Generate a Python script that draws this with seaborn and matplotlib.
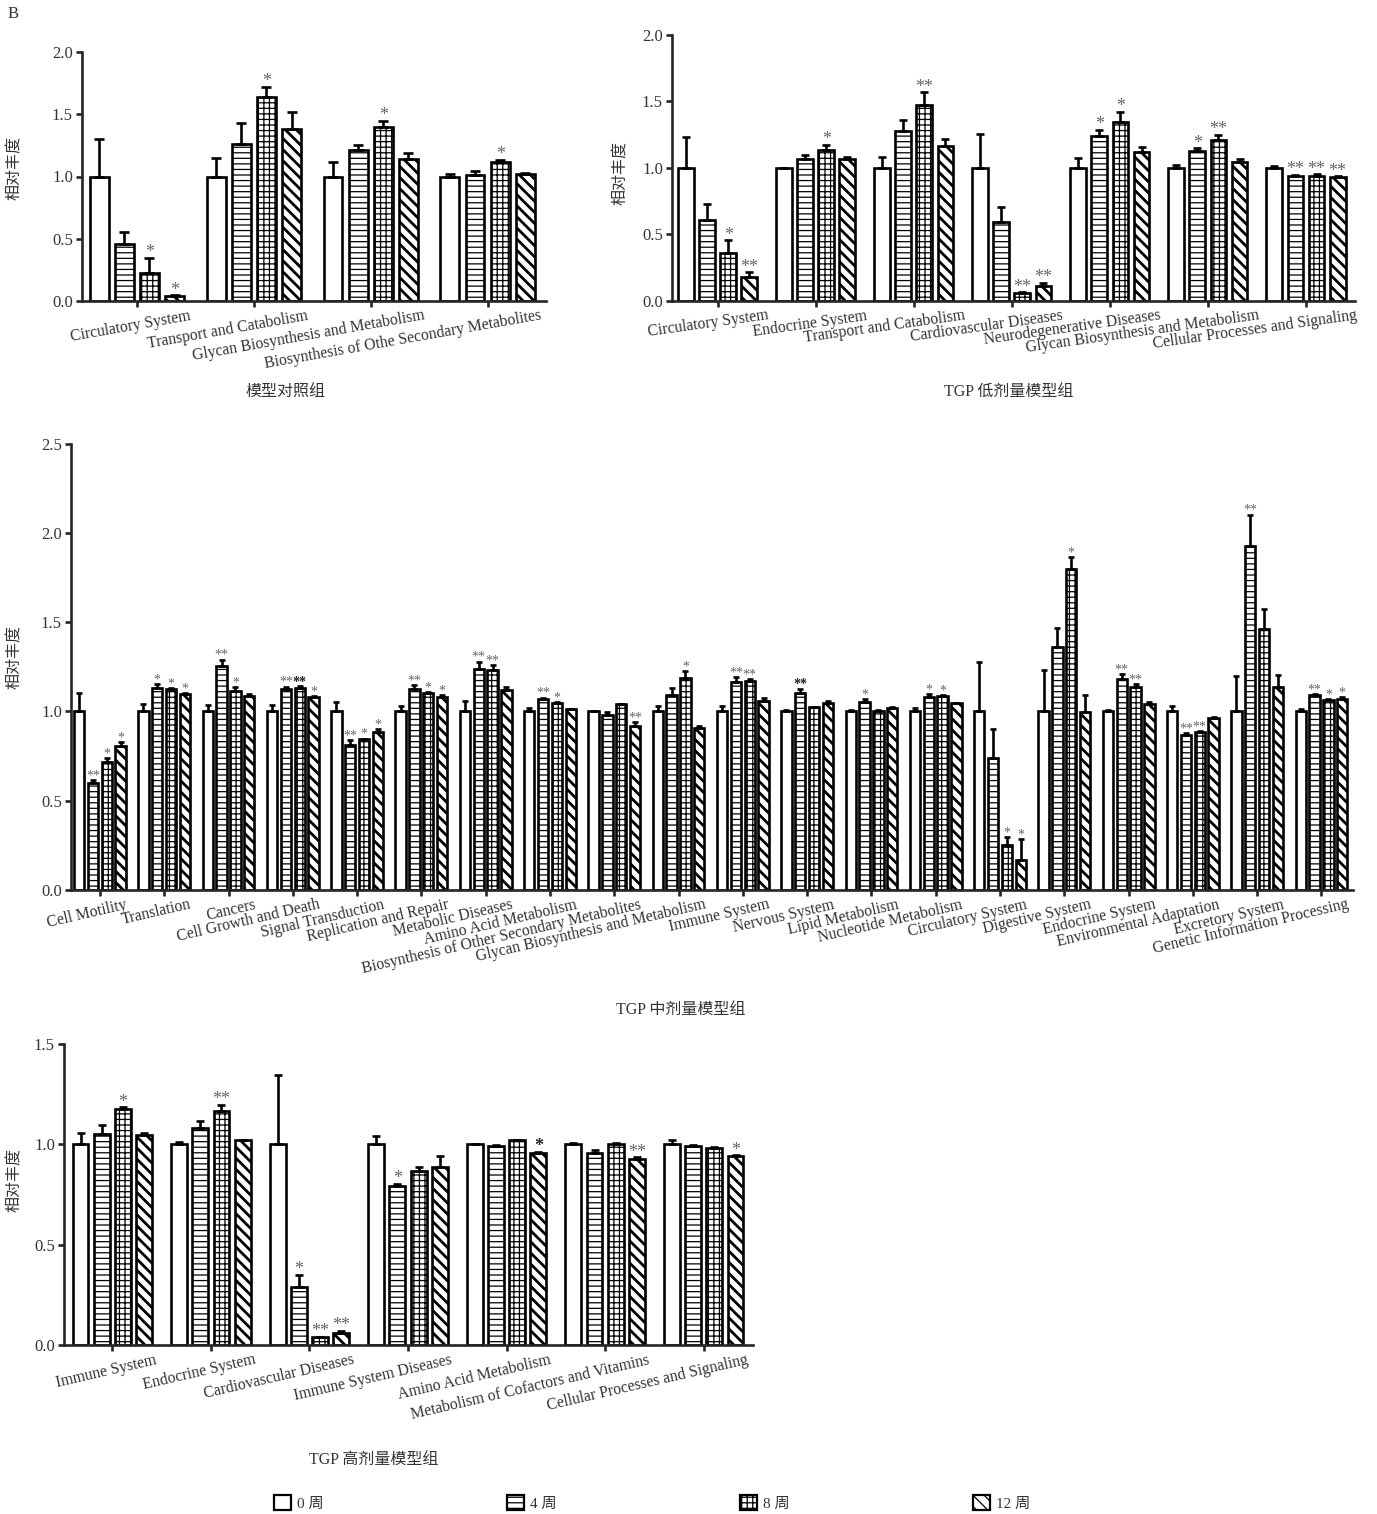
import pandas as pd
import matplotlib
matplotlib.use("Agg")
import matplotlib.pyplot as plt
import matplotlib.patches as mpatches
import seaborn as sns

# 1. Data
# --------------------------------
weeks = ["0 周", "4 周", "8 周", "12 周"]
hatches = ["", "---", "+++", "\\\\\\"]

# 模型对照组
ctrl_cats = ["Circulatory System", "Transport and Catabolism",
             "Glycan Biosynthesis and Metabolism",
             "Biosynthesis of Othe Secondary Metabolites"]
ctrl_mean = [[1.0, 1.0, 1.0, 1.0],
             [0.46, 1.26, 1.21, 1.01],
             [0.22, 1.64, 1.40, 1.12],
             [0.035, 1.385, 1.14, 1.02]]
ctrl_err = [[0.30, 0.147, 0.12, 0.02],
            [0.095, 0.17, 0.04, 0.035],
            [0.125, 0.08, 0.05, 0.012],
            [0.008, 0.135, 0.048, 0.005]]
ctrl_sig = [["", "", "", ""],
            ["", "", "", ""],
            ["*", "*", "*", "*"],
            ["*", "", "", ""]]

# TGP 低剂量模型组
low_cats = ["Circulatory System", "Endocrine System", "Transport and Catabolism",
            "Cardiovascular Diseases", "Neurodegenerative Diseases",
            "Glycan Biosynthesis and Metabolism", "Cellular Processes and Signaling"]
low_mean = [[1.0, 1.0, 1.0, 1.0, 1.0, 1.0, 1.0],
            [0.606, 1.068, 1.281, 0.593, 1.241, 1.126, 0.94],
            [0.357, 1.136, 1.472, 0.058, 1.347, 1.211, 0.94],
            [0.176, 1.063, 1.163, 0.11, 1.118, 1.043, 0.932]]
low_err = [[0.23, 0.0, 0.08, 0.256, 0.073, 0.023, 0.013],
           [0.123, 0.03, 0.081, 0.111, 0.045, 0.02, 0.005],
           [0.098, 0.035, 0.096, 0.005, 0.073, 0.04, 0.01],
           [0.038, 0.02, 0.051, 0.023, 0.04, 0.027, 0.005]]
low_sig = [["", "", "", "", "", "", ""],
           ["", "", "", "", "*", "*", "**"],
           ["*", "*", "**", "**", "*", "**", "**"],
           ["**", "", "", "**", "", "", "**"]]

# TGP 中剂量模型组
mid_cats = ["Cell Motility", "Translation", "Cancers", "Cell Growth and Death",
            "Signal Transduction", "Replication and Repair", "Metabolic Diseases",
            "Amino Acid Metabolism", "Biosynthesis of Other Secondary Metabolites",
            "Glycan Biosynthesis and Metabolism", "Immune System", "Nervous System",
            "Lipid Metabolism", "Nucleotide Metabolism", "Circulatory System",
            "Digestive System", "Endocrine System", "Environmental Adaptation",
            "Excretory System", "Genetic Information Processing"]
mid_mean = [[1.0] * 20,
            [0.598, 1.129, 1.257, 1.128, 0.812, 1.126, 1.24, 1.07, 0.981, 1.091,
             1.164, 1.106, 1.052, 1.081, 0.737, 1.36, 1.182, 0.867, 1.93, 1.091],
            [0.716, 1.124, 1.116, 1.133, 0.843, 1.101, 1.234, 1.05, 1.041, 1.188,
             1.168, 1.023, 1.002, 1.087, 0.25, 1.801, 1.137, 0.882, 1.46, 1.062],
            [0.806, 1.096, 1.088, 1.083, 0.886, 1.083, 1.12, 1.014, 0.921, 0.909,
             1.058, 1.046, 1.019, 1.046, 0.168, 0.996, 1.044, 0.963, 1.139, 1.07]]
mid_err = [[0.103, 0.04, 0.036, 0.036, 0.053, 0.03, 0.056, 0.019, 0.0, 0.029,
            0.029, 0.01, 0.01, 0.019, 0.28, 0.232, 0.006, 0.031, 0.197, 0.015],
           [0.017, 0.025, 0.033, 0.011, 0.029, 0.022, 0.04, 0.007, 0.017, 0.041,
            0.029, 0.022, 0.016, 0.016, 0.163, 0.108, 0.029, 0.013, 0.174, 0.004],
           [0.021, 0.005, 0.021, 0.007, 0.004, 0.006, 0.027, 0.004, 0.0, 0.038,
            0.014, 0.0, 0.006, 0.004, 0.046, 0.064, 0.018, 0.008, 0.113, 0.006],
           [0.022, 0.007, 0.008, 0.003, 0.014, 0.007, 0.017, 0.0, 0.017, 0.012,
            0.019, 0.014, 0.006, 0.004, 0.114, 0.095, 0.01, 0.008, 0.066, 0.009]]
mid_sig = [[""] * 20,
           ["**", "*", "**", "**", "**", "**", "**", "**", "", "",
            "**", "**", "*", "*", "", "", "**", "**", "**", "**"],
           ["*", "*", "*", "**", "*", "*", "**", "*", "", "*",
            "**", "", "", "*", "*", "*", "**", "**", "", "*"],
           ["*", "*", "", "*", "*", "*", "", "", "**", "",
            "", "", "", "", "*", "", "", "", "", "*"]]
mid_bold = [(3, 2), (11, 1)]

# TGP 高剂量模型组
high_cats = ["Immune System", "Endocrine System", "Cardiovascular Diseases",
             "Immune System Diseases", "Amino Acid Metabolism",
             "Metabolism of Cofactors and Vitamins", "Cellular Processes and Signaling"]
high_mean = [[1.0, 1.0, 1.0, 1.0, 1.0, 1.0, 1.0],
             [1.053, 1.08, 0.289, 0.794, 0.992, 0.958, 0.993],
             [1.178, 1.168, 0.038, 0.867, 1.02, 1.003, 0.98],
             [1.048, 1.023, 0.061, 0.889, 0.958, 0.925, 0.944]]
high_err = [[0.058, 0.013, 0.346, 0.043, 0.002, 0.007, 0.022],
            [0.045, 0.036, 0.06, 0.01, 0.006, 0.015, 0.004],
            [0.006, 0.028, 0.004, 0.022, 0.002, 0.005, 0.007],
            [0.008, 0.0, 0.01, 0.055, 0.005, 0.01, 0.001]]
high_sig = [["", "", "", "", "", "", ""],
            ["", "", "*", "*", "", "", ""],
            ["*", "**", "**", "", "", "", ""],
            ["", "", "**", "", "*", "**", "*"]]
high_bold = [(4, 3)]

# 2. Style
# --------------------------------
W, H = 1377, 1514
sns.set_style("ticks")
plt.rcParams["font.family"] = ["Liberation Serif", "Noto Sans CJK SC"]
plt.rcParams["hatch.linewidth"] = 0.9
TXT = "#333333"

fig = plt.figure(figsize=(W / 100, H / 100), dpi=100)


def px_axes(l, t, r, b):
    return fig.add_axes([l / W, 1 - b / H, (r - l) / W, (b - t) / H])


def fig_text(x, y, s, **kw):
    fig.text(x / W, 1 - y / H, s, **kw)


# 3. One grouped bar panel
# --------------------------------
def draw_panel(ax, cats, mean, err, sig, ymax, xlim, shift, rot, star_size=13, bold=()):
    rows = []
    for wk, vals in zip(weeks, mean):
        for c, v in zip(cats, vals):
            rows.append({"cat": c, "week": wk, "value": v})
    df = pd.DataFrame(rows)

    sns.barplot(data=df, x="cat", y="value", hue="week", order=cats, hue_order=weeks,
                palette=["white"] * 4, saturation=1, width=0.86, gap=0.25,
                errorbar=None, edgecolor="black", linewidth=1.9, legend=False, ax=ax)
    bar_conts = list(ax.containers)

    group_px = ax.bbox.width / (xlim[1] - xlim[0])
    cap = group_px * 0.16 * 0.55 / 2 / 1.389

    for i, cont in enumerate(bar_conts):
        xs = []
        for bar in cont:
            bar.set_hatch(hatches[i])
            if hasattr(bar, "set_hatch_linewidth"):
                bar.set_hatch_linewidth(2.0 if i == 3 else 0.9)
            xs.append(bar.get_x() + bar.get_width() / 2)
        ax.errorbar(xs, mean[i], yerr=[[0] * len(xs), err[i]], fmt="none",
                    ecolor="black", elinewidth=1.9, capsize=cap, capthick=1.9, zorder=3)
        for j, s in enumerate(sig[i]):
            if not s:
                continue
            is_bold = (j, i) in bold
            ax.annotate(s, (xs[j], mean[i][j] + err[i][j]), xytext=(0, 0.5),
                        textcoords="offset points", ha="center", va="baseline",
                        fontsize=star_size, color="#222222" if is_bold else "#666666",
                        fontweight="bold" if is_bold else "normal")

    ax.set_xlim(*xlim)
    ax.set_ylim(0, ymax)
    ax.set_yticks([k * 0.5 for k in range(int(round(ymax / 0.5)) + 1)])
    ax.yaxis.set_major_formatter("{x:.1f}")
    ax.set_xticks(range(len(cats)))
    ax.set_xticklabels([])
    ax.set_xlabel("")
    ax.set_ylabel("")
    for j, c in enumerate(cats):
        ax.annotate(c, xy=(j + shift, 0), xycoords=ax.get_xaxis_transform(),
                    xytext=(0, -5), textcoords="offset points", ha="right", va="top",
                    rotation=rot, rotation_mode="anchor", fontsize=11.3, color=TXT)

    sns.despine(ax=ax)
    for sp in ("left", "bottom"):
        ax.spines[sp].set_linewidth(1.9)
    ax.tick_params(axis="y", length=4, width=1.9, pad=2.5, labelsize=12, labelcolor=TXT)
    ax.tick_params(axis="x", length=4, width=1.9)


# 4. Layout
# --------------------------------
ax_a = px_axes(82, 52.3, 546, 300.7)
draw_panel(ax_a, ctrl_cats, ctrl_mean, ctrl_err, ctrl_sig, 2.0, (-0.47, 3.5), 0.45, 10)

ax_b = px_axes(672, 35, 1355, 300.7)
draw_panel(ax_b, low_cats, low_mean, low_err, low_sig, 2.0, (-0.466, 6.5), 0.51, 8)

ax_c = px_axes(71, 444, 1353, 889.7)
draw_panel(ax_c, mid_cats, mid_mean, mid_err, mid_sig, 2.5, (-0.45, 19.49), 0.39, 13,
           star_size=10, bold=mid_bold)

ax_d = px_axes(64, 1044, 753, 1345)
draw_panel(ax_d, high_cats, high_mean, high_err, high_sig, 1.5, (-0.49, 6.5), 0.43, 13,
           bold=high_bold)

# axis titles and group names
for (x, y) in [(15, 168), (621, 173), (15, 657), (15, 1180)]:
    fig_text(x, y, "相对丰度", rotation=90, ha="center", va="center",
             fontsize=11.5, color=TXT)

fig_text(285, 392, "模型对照组", ha="center", va="center", fontsize=11.5, color=TXT)
fig_text(1009, 392, "TGP 低剂量模型组", ha="center", va="center", fontsize=11.5, color=TXT)
fig_text(681, 1010, "TGP 中剂量模型组", ha="center", va="center", fontsize=11.5, color=TXT)
fig_text(374, 1460, "TGP 高剂量模型组", ha="center", va="center", fontsize=11.5, color=TXT)
fig_text(8, 14, "B", ha="left", va="center", fontsize=12, color=TXT)

# legend
handles = []
for wk, h in zip(weeks, hatches):
    p = mpatches.Patch(facecolor="white", edgecolor="black", hatch=h, linewidth=1.6, label=wk)
    if hasattr(p, "set_hatch_linewidth"):
        p.set_hatch_linewidth(2.0 if h.startswith("\\") else 0.9)
    handles.append(p)
fig.legend(handles=handles, loc="center", bbox_to_anchor=(652 / W, 1 - 1503 / H),
           ncol=4, frameon=False, fontsize=11, handlelength=1.1, handleheight=1.1,
           handletextpad=0.4, columnspacing=12.0, labelcolor=TXT)

fig.savefig("out.png", dpi=100)
